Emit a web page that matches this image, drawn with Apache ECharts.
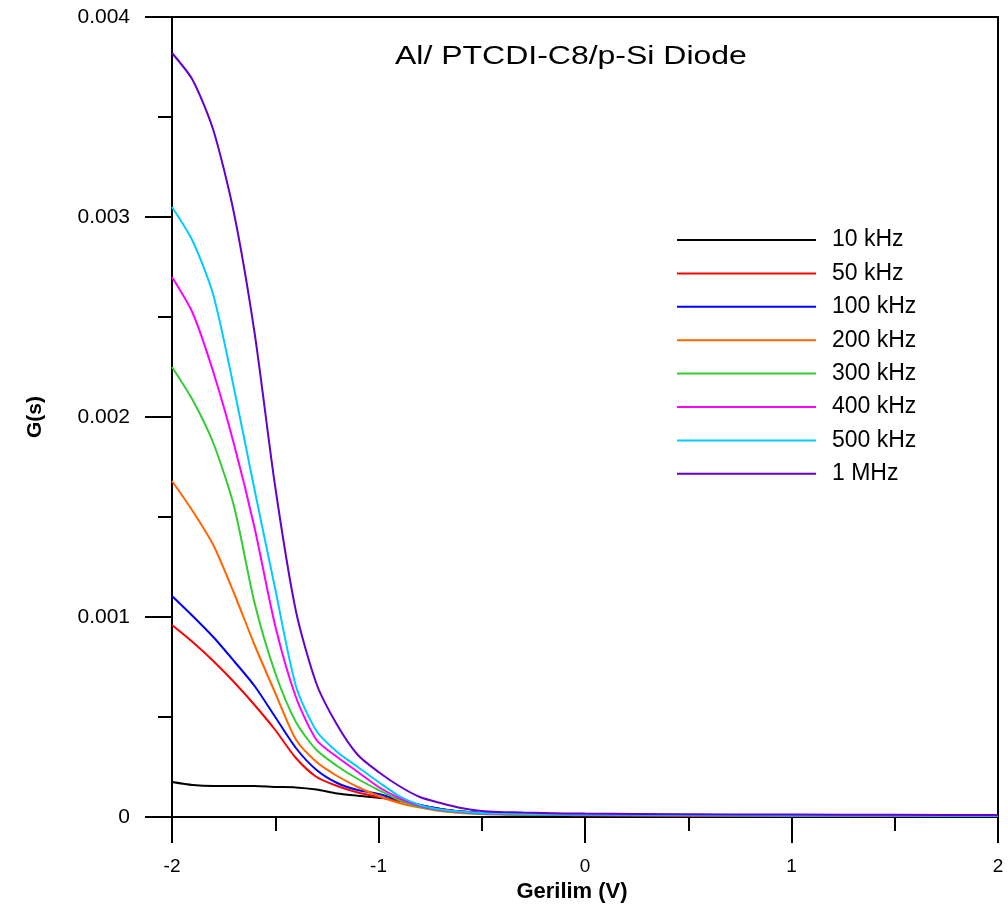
<!DOCTYPE html>
<html lang="en">
<head>
    <meta charset="UTF-8">
    <title>G-V Al/PTCDI-C8/p-Si</title>
    <script src="https://cdn.jsdelivr.net/npm/echarts@6/dist/echarts.min.js"></script>
    <style>
        html, body { margin: 0; padding: 0; background: #fff; }
        #chart { width: 1008px; height: 917px; }
    </style>
</head>
<body>
    <div id="chart"></div>
    <script>
        // voltage points (V)
        var voltages = [-2, -1.9, -1.8, -1.7, -1.6, -1.5, -1.4, -1.3, -1.2, -1.1, -1, -0.9, -0.8, -0.7, -0.6, -0.5, -0.4, -0.3, -0.2, -0.1, 0, 0.5, 1, 1.5, 2];

        // conductance G (S) for each frequency
        var g10k  = [0.000175, 0.00016, 0.000155, 0.000155, 0.000155, 0.00015, 0.000148, 0.000137, 0.000117, 0.000106, 0.000096, 0.000086, 0.00006, 0.00004, 0.000027, 0.00002, 0.000015, 0.000013, 0.000012, 0.000011, 0.00001, 0.000008, 0.000007, 0.000006, 0.000005];
        var g50k  = [0.00096, 0.000875, 0.00078, 0.000675, 0.00056, 0.000435, 0.000295, 0.0002, 0.000155, 0.0001225, 0.0001, 0.00008, 0.0000575, 0.00004, 0.000027, 0.00002, 0.000015, 0.000013, 0.000012, 0.000011, 0.00001, 0.000008, 0.000007, 0.000006, 0.000005];
        var g100k = [0.001105, 0.001005, 0.0009, 0.00078, 0.000655, 0.0005, 0.000345, 0.000235, 0.00017, 0.000135, 0.000115, 0.0000875, 0.00006, 0.00004, 0.0000275, 0.00002, 0.000015, 0.000013, 0.000012, 0.000011, 0.00001, 0.000008, 0.000007, 0.000006, 0.000005];
        var g200k = [0.00168, 0.00153, 0.00136, 0.00112, 0.00086, 0.00062, 0.000387, 0.000275, 0.000205, 0.00015, 0.000105, 0.00007, 0.0000475, 0.00003, 0.00002, 0.000015, 0.000012, 0.000011, 0.00001, 0.0000095, 0.000009, 0.0000075, 0.0000065, 0.0000055, 0.000005];
        var g300k = [0.00225, 0.002085, 0.00187, 0.001555, 0.00107, 0.00072, 0.000475, 0.000335, 0.000255, 0.00019, 0.000135, 0.000085, 0.00005, 0.0000325, 0.0000225, 0.000015, 0.000013, 0.000012, 0.000011, 0.0000105, 0.00001, 0.0000085, 0.000007, 0.000006, 0.000005];
        var g400k = [0.0027, 0.00252, 0.002225, 0.001865, 0.001445, 0.000955, 0.0006, 0.000385, 0.0003, 0.000225, 0.00015, 0.000095, 0.000055, 0.000035, 0.000025, 0.0000175, 0.000015, 0.000014, 0.000013, 0.000012, 0.000011, 0.000009, 0.0000075, 0.0000065, 0.0000055];
        var g500k = [0.00305, 0.00288, 0.00261, 0.002145, 0.001635, 0.00114, 0.000655, 0.00043, 0.000325, 0.00025, 0.000175, 0.000105, 0.00006, 0.0000375, 0.0000275, 0.00002, 0.000017, 0.000015, 0.000014, 0.000013, 0.000012, 0.00001, 0.000008, 0.000007, 0.000006];
        var g1M   = [0.00382, 0.003685, 0.003435, 0.00302, 0.00242, 0.00165, 0.00103, 0.000665, 0.00046, 0.00031, 0.000225, 0.000155, 0.0001, 0.00007, 0.000045, 0.00003, 0.000025, 0.000022, 0.00002, 0.000018, 0.000017, 0.000014, 0.000012, 0.000011, 0.00001];

        var freqNames = ['10 kHz', '50 kHz', '100 kHz', '200 kHz', '300 kHz', '400 kHz', '500 kHz', '1 MHz'];
        var freqColors = ['#000000', '#ff0000', '#0000ff', '#ff6600', '#33cc33', '#ff00ff', '#00ccff', '#6600cc'];
        var allG = [g10k, g50k, g100k, g200k, g300k, g400k, g500k, g1M];

        var xTicks = [-2, -1, 0, 1, 2];
        var yTicks = [0, 0.001, 0.002, 0.003, 0.004];

        var chart = echarts.init(document.getElementById('chart'), null, { renderer: 'canvas' });

        var series = freqNames.map(function (name, i) {
            return {
                type: 'line',
                name: name,
                xAxisIndex: 0,
                yAxisIndex: 0,
                data: voltages.map(function (v, j) { return [v, allG[i][j]]; }),
                smooth: 0.25,
                showSymbol: false,
                symbol: 'none',
                lineStyle: { width: 2, color: freqColors[i] },
                itemStyle: { color: freqColors[i] },
                emphasis: { disabled: true },
                z: 3 + i
            };
        });

        var option = {
            animation: false,
            backgroundColor: '#ffffff',
            graphic: [{
                type: 'text',
                left: 395,
                top: 44,
                scaleX: 1.23,
                style: {
                    text: 'Al/ PTCDI-C8/p-Si Diode',
                    font: 'normal 26px "Liberation Sans", Arial, sans-serif',
                    fill: '#000'
                }
            }],
            legend: {
                orient: 'vertical',
                left: 677,
                top: 228,
                padding: 0,
                icon: 'rect',
                itemWidth: 139,
                itemHeight: 2,
                itemGap: 9.4,
                selectedMode: false,
                data: freqNames,
                textStyle: {
                    fontFamily: 'Liberation Sans, Arial, sans-serif',
                    fontSize: 23,
                    lineHeight: 24,
                    color: '#000',
                    padding: [0, 0, 0, 11]
                }
            },
            grid: { left: 172, right: 10, top: 17, bottom: 100, containLabel: false },
            xAxis: [{
                type: 'value',
                min: xTicks[0],
                max: xTicks[xTicks.length - 1],
                interval: 1,
                name: 'Gerilim (V)',
                nameLocation: 'middle',
                nameGap: 60,
                nameTextStyle: { fontFamily: 'Liberation Sans, Arial, sans-serif', fontSize: 22, fontWeight: 'bold', color: '#000', padding: [0, 26, 0, 0] },
                axisLine: { onZero: false, lineStyle: { color: '#000', width: 2 } },
                axisTick: { inside: false, length: 26, lineStyle: { color: '#000', width: 2 } },
                minorTick: { show: true, splitNumber: 2, length: 14, lineStyle: { color: '#000', width: 2 } },
                axisLabel: { margin: 40, fontFamily: 'Liberation Sans, Arial, sans-serif', fontSize: 19, color: '#000' },
                splitLine: { show: false }
            }, {
                type: 'value',
                position: 'top',
                min: xTicks[0],
                max: xTicks[xTicks.length - 1],
                axisLine: { show: true, onZero: false, lineStyle: { color: '#000', width: 2 } },
                axisTick: { show: false },
                axisLabel: { show: false },
                splitLine: { show: false }
            }],
            yAxis: [{
                type: 'value',
                min: yTicks[0],
                max: yTicks[yTicks.length - 1],
                interval: 0.001,
                name: 'G(s)',
                nameLocation: 'middle',
                nameGap: 126,
                nameTextStyle: { fontFamily: 'Liberation Sans, Arial, sans-serif', fontSize: 21, fontWeight: 'bold', color: '#000' },
                axisLine: { onZero: false, lineStyle: { color: '#000', width: 2 } },
                axisTick: { inside: false, length: 27, lineStyle: { color: '#000', width: 2 } },
                minorTick: { show: true, splitNumber: 2, length: 14, lineStyle: { color: '#000', width: 2 } },
                axisLabel: { margin: 42, fontFamily: 'Liberation Sans, Arial, sans-serif', fontSize: 21, color: '#000' },
                splitLine: { show: false }
            }, {
                type: 'value',
                position: 'right',
                min: yTicks[0],
                max: yTicks[yTicks.length - 1],
                axisLine: { show: true, onZero: false, lineStyle: { color: '#000', width: 2 } },
                axisTick: { show: false },
                axisLabel: { show: false },
                splitLine: { show: false }
            }],
            series: series
        };

        chart.setOption(option);
    </script>
</body>
</html>
